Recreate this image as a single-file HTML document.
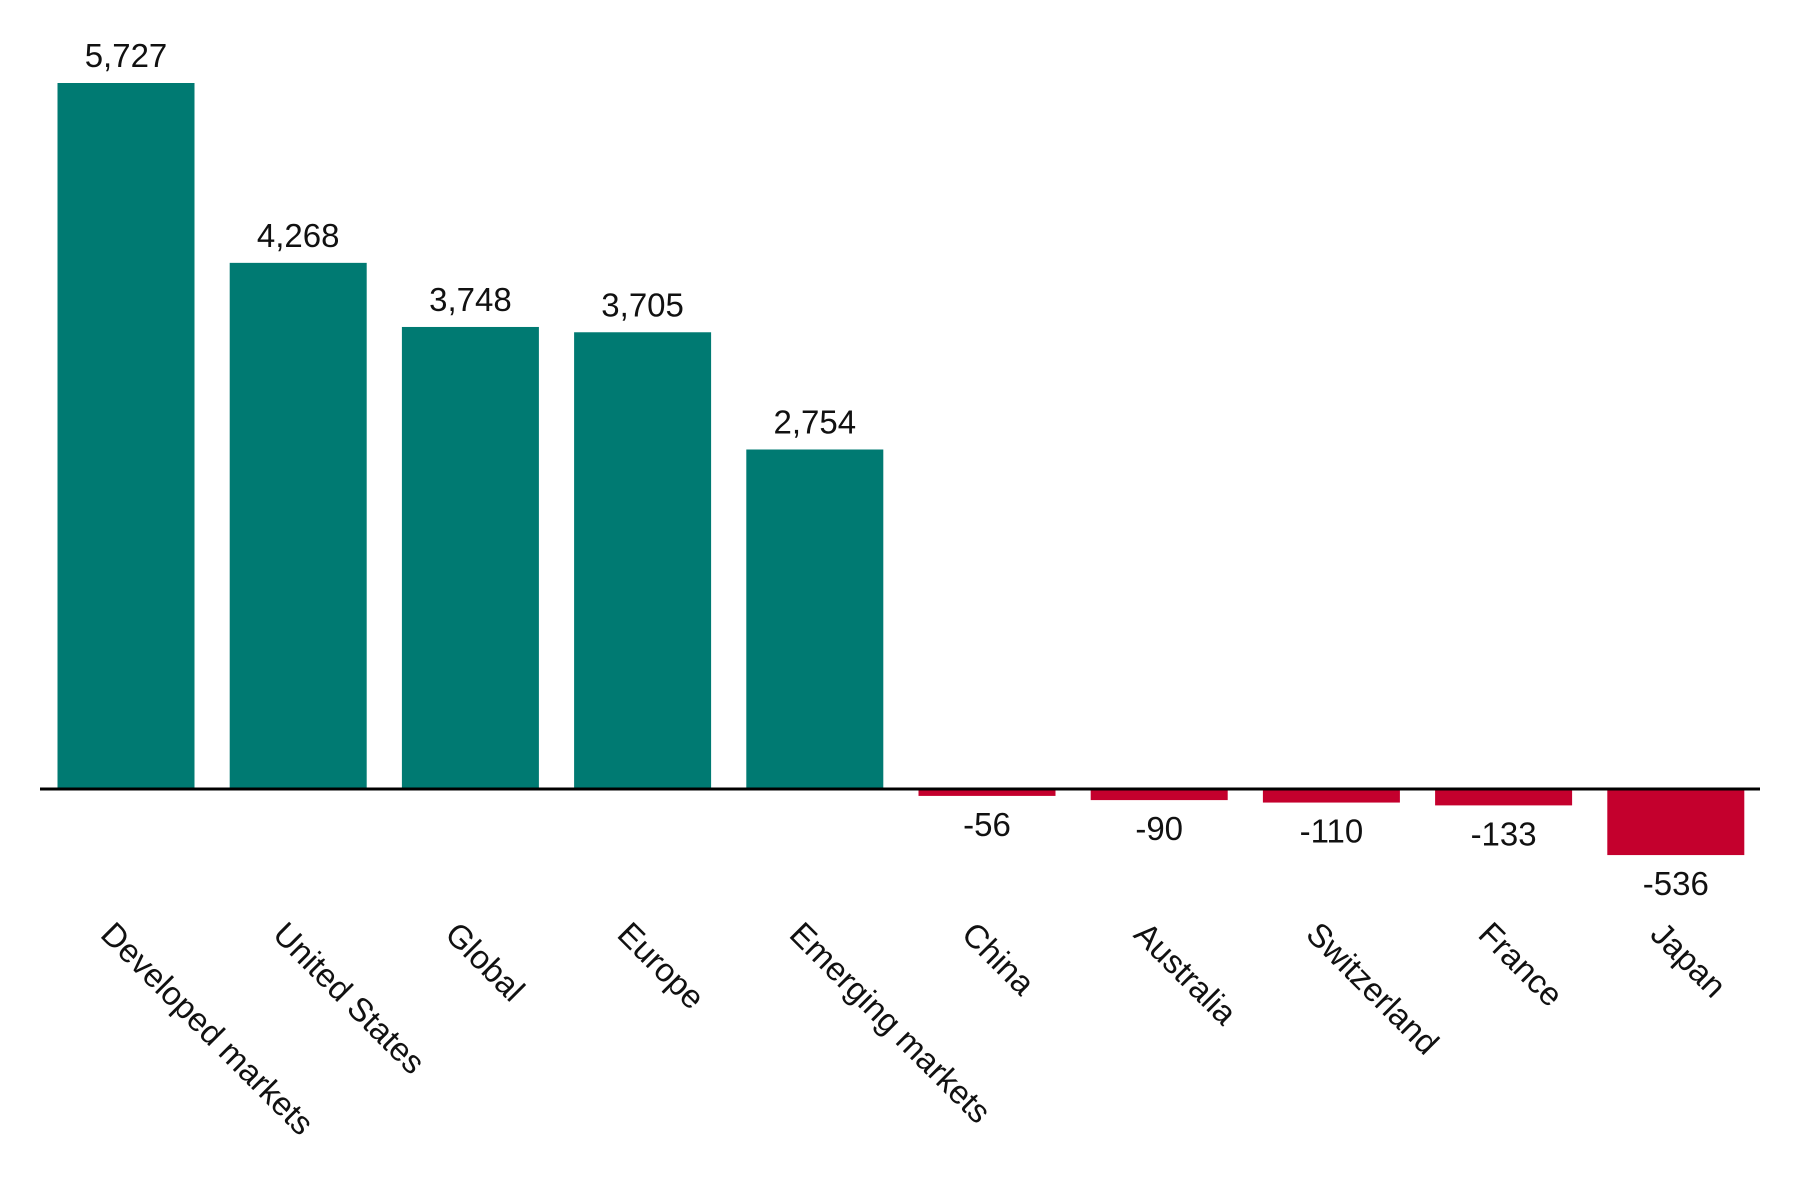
<!DOCTYPE html>
<html><head><meta charset="utf-8"><style>
html,body{margin:0;padding:0;background:#fff;}
svg{display:block;font-family:"Liberation Sans",sans-serif;}
</style></head><body>
<svg id="chart" width="1800" height="1200" viewBox="0 0 1800 1200"></svg>
<script>
const categories = ["Developed markets","United States","Global","Europe","Emerging markets","China","Australia","Switzerland","France","Japan"];
const values = [5727,4268,3748,3705,2754,-56,-90,-110,-133,-536];
const valueLabels = ["5,727","4,268","3,748","3,705","2,754","-56","-90","-110","-133","-536"];

const svg = document.getElementById('chart');
const NS = 'http://www.w3.org/2000/svg';
const zeroY = 789, pxPerUnit = 706/5727;
const x0 = 57.5, step = 172.2, barW = 137;
function yScale(v){ return zeroY - v*pxPerUnit; }
function xScale(i){ return x0 + i*step; }

categories.forEach((c,i)=>{
  const v = values[i];
  const x = xScale(i);
  const y1 = Math.min(yScale(v), zeroY), y2 = Math.max(yScale(v), zeroY);
  const r = document.createElementNS(NS,'rect');
  r.setAttribute('x', x); r.setAttribute('y', y1);
  r.setAttribute('width', barW); r.setAttribute('height', Math.max(y2-y1,1));
  r.setAttribute('fill', v>=0 ? '#007a72' : '#c4002d');
  
  
  svg.appendChild(r);

  const cx = x + barW/2;
  const t = document.createElementNS(NS,'text');
  t.setAttribute('x', cx);
  t.setAttribute('y', v>=0 ? y1 - 16 : y2 + 40);
  t.setAttribute('text-anchor','middle');
  t.setAttribute('font-size','33');
  t.setAttribute('fill','#111');
  t.textContent = valueLabels[i];
  
  
  svg.appendChild(t);

  const lx = cx - 27, ly = 936;
  const l = document.createElementNS(NS,'text');
  l.setAttribute('x', lx); l.setAttribute('y', ly);
  l.setAttribute('transform', 'rotate(45 ' + lx + ' ' + ly + ')');
  l.setAttribute('font-size','33');
  l.setAttribute('fill','#111');
  l.textContent = c;
  
  
  svg.appendChild(l);
});

const axis = document.createElementNS(NS,'line');
axis.setAttribute('x1', 40); axis.setAttribute('x2', 1760);
axis.setAttribute('y1', zeroY); axis.setAttribute('y2', zeroY);
axis.setAttribute('stroke','#000'); axis.setAttribute('stroke-width','3');


svg.appendChild(axis);
</script>
</body></html>
